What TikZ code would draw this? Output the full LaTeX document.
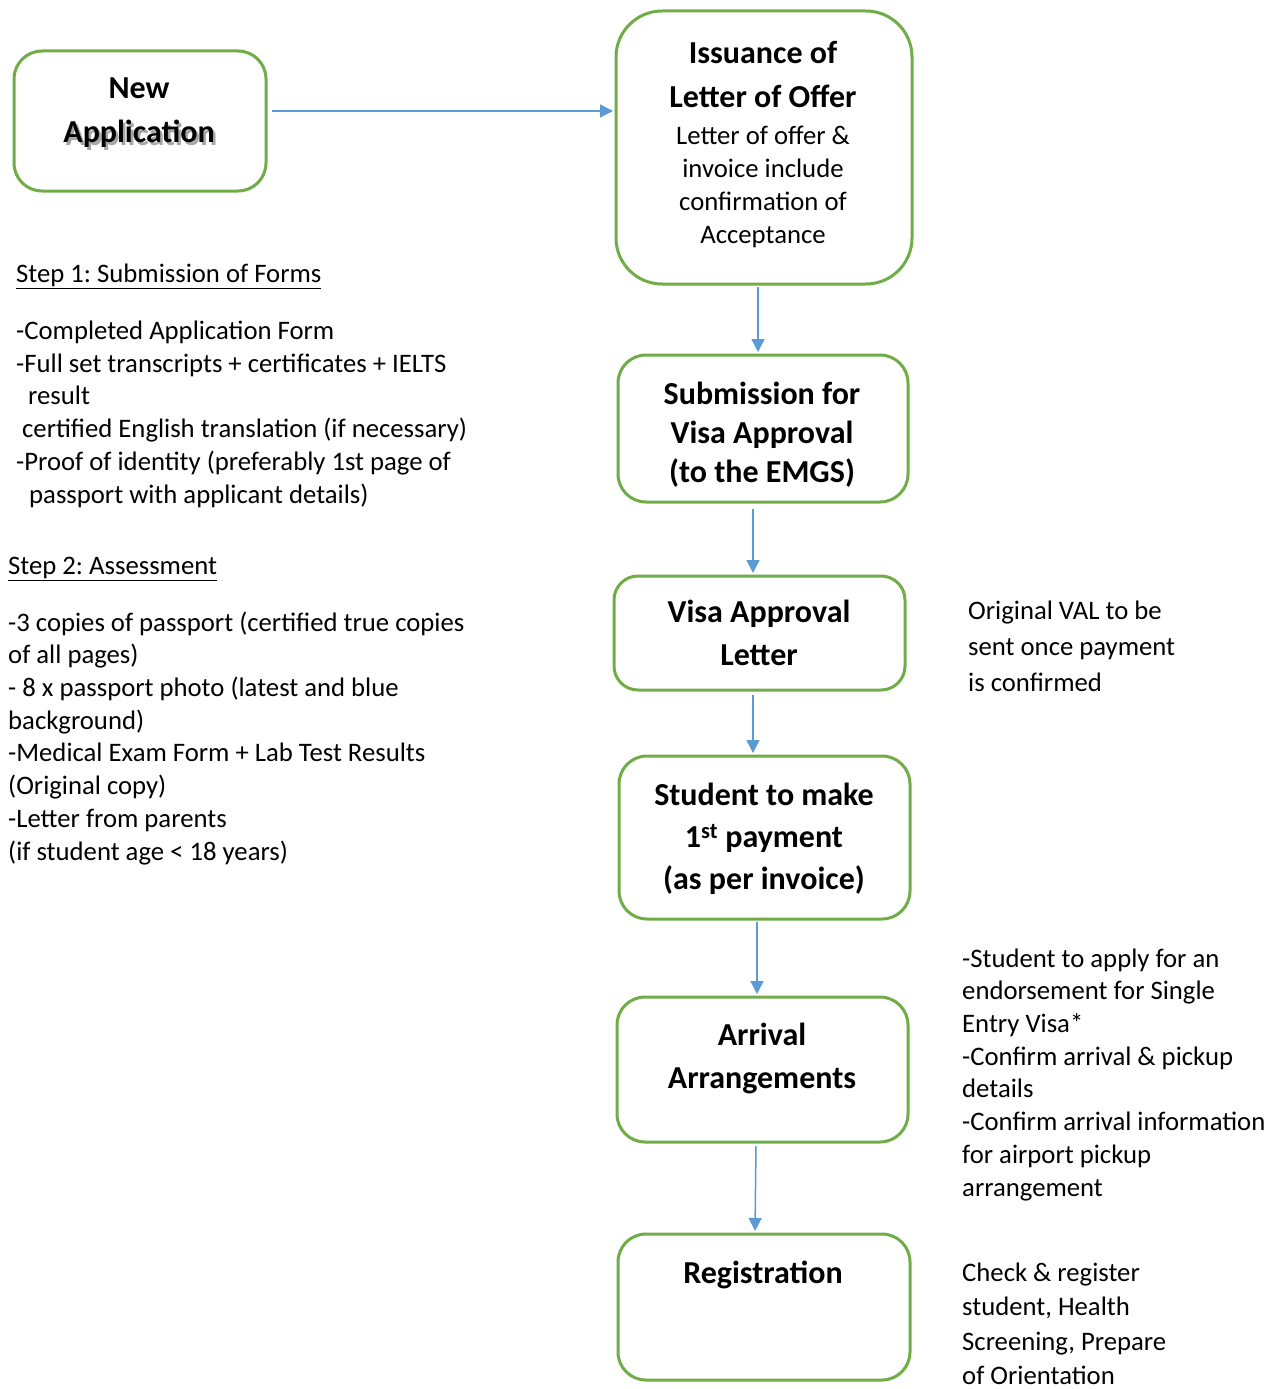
\documentclass[tikz,border=0pt]{standalone}
\usepackage{fontspec}
\setmainfont{Carlito}
\usetikzlibrary{arrows.meta}
\definecolor{boxgreen}{HTML}{70AD47}
\definecolor{arrowblue}{HTML}{5B9BD5}
\newcommand{\bodyfnt}[1]{\fontsize{26.7}{#1}\selectfont}
\newcommand{\ttlfnt}[1]{\fontsize{32}{#1}\selectfont\bfseries}
\frenchspacing
\begin{document}
\frenchspacing
\begin{tikzpicture}[x=1pt,y=-1pt,
  flowbox/.style={draw=boxgreen, line width=3pt, rounded corners=28pt, inner sep=0pt},
  txt/.style={inner sep=0pt, align=left, anchor=base west, font=\bodyfnt{32.7}},
  ttl/.style={inner sep=0pt, align=center, anchor=base},
  arr/.style={draw=arrowblue, line width=1.5pt, -{Triangle[length=13pt,width=13pt]}, shorten >=1.5pt, shorten <=1.5pt}]
\fill[white] (0,0) rectangle (1272,1389);
\useasboundingbox (0,0) rectangle (1272,1389);

% boxes
\node[flowbox, minimum width=252pt, minimum height=140pt] (new) at (140,121) {};
\node[flowbox, minimum width=296pt, minimum height=273pt, rounded corners=46pt] (iss) at (764,147.5) {};
\node[flowbox, minimum width=290pt, minimum height=147pt] (sub) at (763,428.5) {};
\node[flowbox, minimum width=291pt, minimum height=114pt, rounded corners=24pt] (visa) at (759.5,633) {};
\node[flowbox, minimum width=291pt, minimum height=163pt] (pay) at (764.5,837.5) {};
\node[flowbox, minimum width=291pt, minimum height=145pt] (arrb) at (762.5,1069.5) {};
\node[flowbox, minimum width=292pt, minimum height=146pt] (regb) at (764,1307) {};

% box texts (anchor base = baseline of last line)
\node[ttl, font={\ttlfnt{44}}, text=black!35] (newS) at (141.5,145) {\phantom{New}\\Application};
\node[ttl, font={\ttlfnt{44}}] (newT) at (139,142.5) {New\\Application};
\node[ttl, font={\ttlfnt{44}}] (issT) at (763,107.5) {Issuance of\\Letter of Offer};
\node[ttl, font={\bodyfnt{32.8}}] (issB) at (763,243) {Letter of offer \&\\invoice include\\confirmation of\\Acceptance};
\node[ttl, font={\ttlfnt{39}}] (subT) at (762,482.5) {Submission for\\Visa Approval\\(to the EMGS)};
\node[ttl, font={\ttlfnt{43}}] (visaT) at (759,665.5) {Visa Approval\\Letter};
\node[ttl, font={\ttlfnt{42}}] (payT) at (764,889.5) {Student to make\\1\textsuperscript{st} payment\\(as per invoice)};
\node[ttl, font={\ttlfnt{43}}] (arrT) at (762,1088.5) {Arrival\\Arrangements};
\node[ttl, font={\ttlfnt{43}}] (regT) at (763,1283.5) {Registration};

% left notes
\node[txt] (s1h) at (16,282) {\underline{Step 1: Submission of Forms}};
\node[txt] (s1) at (16,503) {-Completed Application Form\\-Full set transcripts + certificates + IELTS\\\hspace*{12pt}result\\\hspace*{6pt}certified English translation (if necessary)\\-Proof of identity (preferably 1st page of\\\hspace*{13pt}passport with applicant details)};
\node[txt] (s2h) at (8,574) {\underline{Step 2: Assessment}};
\node[txt] (s2) at (8,860) {-3 copies of passport (certified true copies\\of all pages)\\- 8 x passport photo (latest and blue\\background)\\-Medical Exam Form + Lab Test Results\\(Original copy)\\-Letter from parents\\(if student age < 18 years)};

% right notes
\node[txt, font={\bodyfnt{36}}] (valN) at (968,691) {Original VAL to be\\sent once payment\\is confirmed};
\node[txt] (arrN) at (962,1196) {-Student to apply for an\\endorsement for Single\\Entry Visa*\\-Confirm arrival \& pickup\\details\\-Confirm arrival information\\for airport pickup\\arrangement};
\node[txt, font={\bodyfnt{34.5}}] (regN) at (962,1384.5) {Check \& register\\student, Health\\Screening, Prepare\\of Orientation};

% connectors
\draw[arr] ([xshift=3pt,yshift=10pt]new.east) -- ([yshift=10pt]new.east -| iss.west);
\draw[arr] ([xshift=-6pt]iss.south) -- ([xshift=-6pt]iss.south |- sub.north);
\draw[arr] ([xshift=-10pt,yshift=-4pt]sub.south) -- ([xshift=-10pt]sub.south |- visa.north);
\draw[arr] ([xshift=-6.5pt,yshift=-2pt]visa.south) -- ([xshift=-6.5pt]visa.south |- pay.north);
\draw[arr] ([xshift=-7.5pt]pay.south) -- ([xshift=-7.5pt]pay.south |- arrb.north);
\draw[arr] ([xshift=-6.5pt,yshift=-1pt]arrb.south) -- ([xshift=-7.5pt]arrb.south |- regb.north);
\end{tikzpicture}
\end{document}
